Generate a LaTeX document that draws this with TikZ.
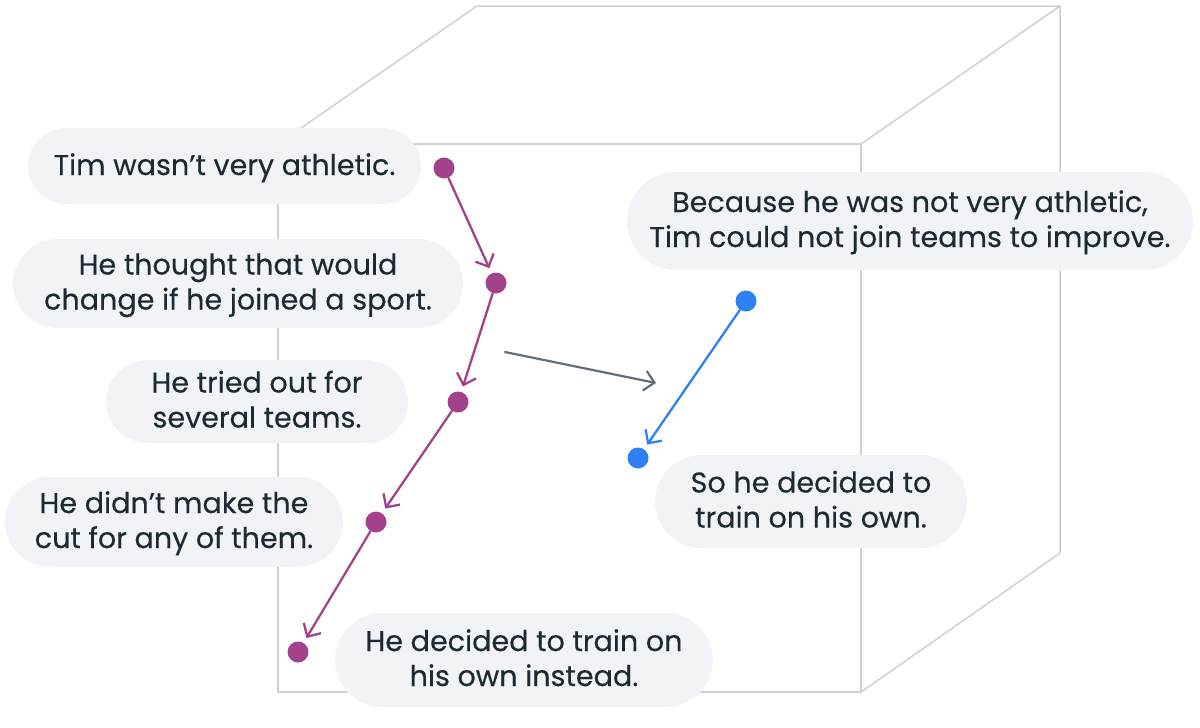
\documentclass[tikz,border=0pt]{standalone}
\usepackage{fontspec}
\setmainfont{Poppins}
\newfontfamily\storyfont{Poppins}[FakeBold=0.35]
\usetikzlibrary{arrows.meta,shapes.misc}
\definecolor{storyink}{HTML}{1C2B33}
\definecolor{bubblefill}{HTML}{F1F3F6}
\definecolor{cubeline}{HTML}{CDD1D6}
\definecolor{plum}{HTML}{A3418B}
\definecolor{azure}{HTML}{2F80F5}
\definecolor{shiftgray}{HTML}{616D7B}
\begin{document}
\begin{tikzpicture}[x=0.5pt,y=-0.5pt,line cap=round,line join=round,
  every node/.style={font=\storyfont\fontsize{14.3}{17.5}\selectfont},
  bubble/.style={shape=rounded rectangle, fill=bubblefill, text=storyink,
    align=center, inner sep=0pt, text height=26pt, text depth=0pt},
  dot/.style={circle, inner sep=0pt, minimum size=10.5pt},
  link/.style={line width=1.15pt, shorten >=2.7pt,
    -{Straight Barb[length=5pt,width=10pt]}}]
  \useasboundingbox (0,0) rectangle (1200,728);
  % the cube, hidden edges left out
  \draw[cubeline, line width=0.75pt] (278,144) rectangle (861,692);
  \draw[cubeline, line width=0.75pt] (278,144) -- (477,6) -- (1060,6)
    -- (1060,553) -- (861,692);
  \draw[cubeline, line width=0.75pt] (861,144) -- (1060,6);
  % left story, one bubble per sentence
  \node[bubble, text height=9pt, minimum width=196.5pt, minimum height=38pt]
    (tim) at (224.5,166) {Tim wasn’t very athletic.};
  \node[bubble, minimum width=225pt, minimum height=44.5pt] (thought) at (238,283.5)
    {He thought that would\\change if he joined a sport.};
  \node[bubble, minimum width=151pt, minimum height=41.5pt] (tried) at (257,401.5)
    {He tried out for\\several teams.};
  \node[bubble, minimum width=169pt, minimum height=45pt] (cut) at (174,522)
    {He didn’t make the\\cut for any of them.};
  \node[bubble, minimum width=189pt, minimum height=47pt] (train) at (524,660)
    {He decided to train on\\his own instead.};
  % right story
  \node[bubble, minimum width=283pt, minimum height=49pt] (because) at (910,221)
    {Because he was not very athletic,\\Tim could not join teams to improve.};
  \node[bubble, minimum width=156pt, minimum height=46.5pt] (so) at (811,501.5)
    {So he decided to\\train on his own.};
  % points and steps
  \node[dot, fill=plum] (p1) at (444,168) {};
  \node[dot, fill=plum] (p2) at (496,283) {};
  \node[dot, fill=plum] (p3) at (458,402) {};
  \node[dot, fill=plum] (p4) at (376,522) {};
  \node[dot, fill=plum] (p5) at (298,652) {};
  \foreach \a/\b in {p1/p2,p2/p3,p3/p4,p4/p5}
    \draw[link, plum] (\a) -- (\b);
  \node[dot, fill=azure] (q1) at (746,301) {};
  \node[dot, fill=azure] (q2) at (638,458) {};
  \draw[link, azure] (q1) -- (q2);
  % mapping arrow
  \coordinate (mapfrom) at (505,352);
  \coordinate (mapto) at (656,383);
  \draw[shiftgray, line width=1.1pt, -{Straight Barb[length=5pt,width=10pt]}]
    (mapfrom) -- (mapto);
\end{tikzpicture}
\end{document}
